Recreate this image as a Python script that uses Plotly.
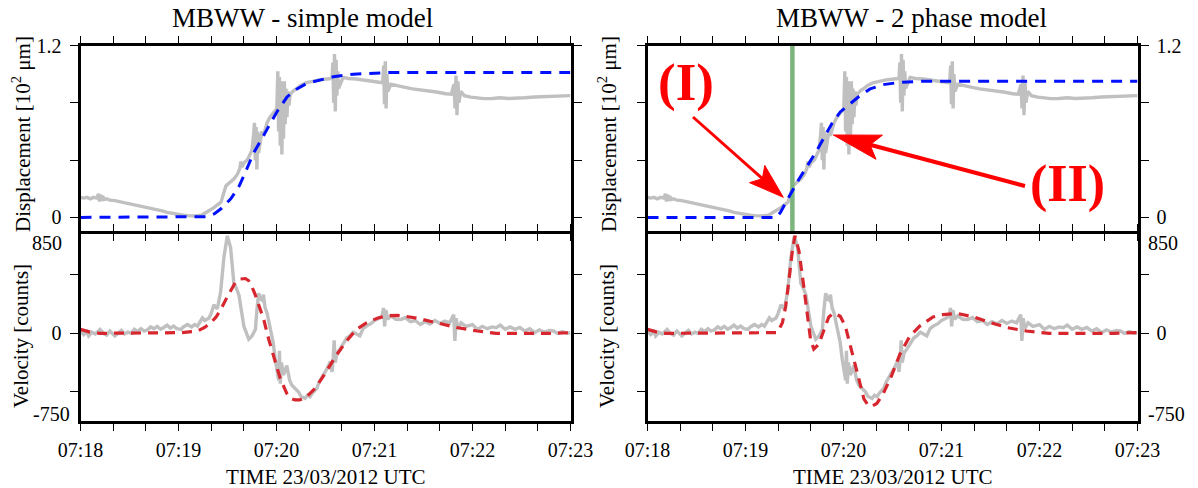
import math
import plotly.graph_objects as go

W, H = 1198, 488

# ---------------- data (time in seconds after 07:18:00 UTC) ----------------
# observed displacement [10^2 um]  (same record in both panels)
disp_obs_pts = [
    (0, 0.14), (2, 0.135), (4, 0.14), (6, 0.13), (8, 0.14), (10, 0.135), (11, 0.165), (11.6, 0.11),
    (12.2, 0.16), (12.8, 0.115), (13.5, 0.15), (14.5, 0.125), (16, 0.13), (18, 0.12), (21, 0.117),
    (24, 0.11), (27, 0.1), (30, 0.095), (33, 0.09), (36, 0.08), (40, 0.072), (43, 0.065), (46, 0.055),
    (50, 0.045), (53, 0.035), (56, 0.028), (60, 0.018), (63, 0.015), (66, 0.012), (70, 0.01), (74, 0.015),
    (78, 0.04), (81.9, 0.07), (84, 0.09), (86, 0.106), (88, 0.18), (89, 0.22), (91, 0.24), (94, 0.27),
    (96, 0.3), (97.5, 0.34), (98.2, 0.39), (99, 0.35), (100, 0.38), (102, 0.4), (103, 0.42), (105, 0.47),
    (106, 0.58), (106.5, 0.66), (107, 0.4), (107.5, 0.63), (108, 0.335), (108.5, 0.6), (109, 0.45),
    (110, 0.54), (111, 0.6), (112, 0.57), (114.2, 0.66), (116, 0.7), (118.2, 0.73), (120.2, 0.76),
    (120.8, 1.02), (121.3, 0.6), (121.8, 0.98), (122.3, 0.5), (122.8, 0.95), (123.3, 0.44), (123.8, 0.9),
    (124.3, 0.55), (124.8, 0.95), (125.3, 0.65), (125.8, 0.9), (126.4, 0.7), (127, 0.88), (127.6, 0.78),
    (128.4, 0.86), (130.5, 0.886), (132.5, 0.9), (134.6, 0.92), (138, 0.94), (142.7, 0.955), (146, 0.96),
    (150.8, 0.966), (154, 0.97), (154.5, 1.08), (155, 0.8), (155.5, 1.14), (156, 0.74), (156.5, 1.1),
    (157, 0.85), (157.5, 1.02), (158, 0.9), (160.8, 0.977), (164, 0.97), (168.9, 0.966), (173, 0.96),
    (177, 0.955), (181, 0.95), (183, 0.943), (185, 0.94), (185.6, 1.06), (186.1, 0.79), (186.6, 1.09),
    (187.1, 0.76), (187.6, 1.0), (188.2, 0.88), (190, 0.93), (193.2, 0.92), (198, 0.91), (203.3, 0.897),
    (208, 0.89), (213.5, 0.886), (218, 0.875), (223.6, 0.863), (227, 0.86), (228.7, 0.93), (229.3, 0.76),
    (229.9, 0.99), (230.5, 0.714), (231.1, 0.95), (231.7, 0.8), (232.8, 0.88), (235, 0.85), (238.9, 0.84),
    (243, 0.832), (247, 0.829), (252, 0.83), (257, 0.835), (262, 0.83), (266, 0.83), (272, 0.835),
    (278, 0.84), (284, 0.842), (290, 0.845), (295, 0.848), (300, 0.85),
]

# observed velocity [counts]
vel_obs_pts = [
    (0, 20), (2, -10), (4, 15), (5, -23), (7, 10), (9, -5), (12, 34), (14, 0), (16, -15), (18, 20),
    (21, -23), (23, 5), (25, 25), (27, -5), (29, 10), (31, 0), (33, 34), (35, 15), (37, 40), (39, 20),
    (41, 30), (43, 55), (45, 40), (47, 60), (49, 35), (51, 50), (53, 70), (55, 45), (57, 62), (59, 40),
    (61.5, 34), (63, 55), (65.5, 76), (68, 55), (70, 75), (71.6, 62), (73, 100), (74.6, 132), (76, 110),
    (78.7, 132), (80, 170), (81.7, 244), (83.8, 210), (85.8, 356), (87.8, 651), (89.9, 834), (91.9, 735),
    (93.9, 427), (95, 400), (97, 328), (100, 62), (103, -50), (105, -22), (107.1, 34), (108, 200),
    (109.1, 343), (110, 300), (111.1, 286), (112, 330), (113, 220), (114.2, 174), (116.2, 34), (118, -80),
    (119.2, -219), (120, -300), (121.3, -401), (121.8, -150), (122.3, -430), (123, -250), (124.3, -357),
    (126.3, -275), (128, -400), (129.4, -444), (131, -470), (133.4, -500), (135, -540), (137.5, -556),
    (139, -530), (140.5, -542), (142, -510), (144.6, -472), (146, -420), (148.7, -360), (151, -300),
    (153, -240), (154, -330), (154.7, -219), (155.3, -60), (156, -250), (157, -170), (158.8, -135),
    (161, -90), (163, -40), (164.9, -22), (167, 10), (169, -5), (171, -22), (173, 40), (175, 62),
    (178, 85), (180, 110), (183.1, 132), (184.6, 147), (185.5, 217), (186.2, 60), (187, 200), (188, 120),
    (190, 150), (193, 120), (196, 118), (199, 135), (202, 100), (205, 110), (208, 76), (211, 100),
    (214, 80), (217, 110), (220, 85), (223, 105), (226, 90), (228.5, 160), (229.2, -65), (230, 130),
    (231, 40), (233, 90), (236, 60), (240, 75), (243, 34), (246, 60), (249, 40), (252, 55), (254.5, 48),
    (257, 70), (260, 35), (263, 55), (266, 34), (269, 50), (272, 20), (275, 40), (278, 6), (281, 30),
    (284, 10), (287, 25), (289.5, 20), (292, 0), (295, 15), (298, 0), (300, 6),
]

# simple model
simple_disp_pts = [
    (0, 0), (70, 0), (78, 0.005), (82, 0.025), (86, 0.06), (89, 0.095), (92, 0.13), (95, 0.18),
    (97.2, 0.22), (100, 0.29), (102, 0.347), (106, 0.45), (110, 0.53), (115.2, 0.633), (120.2, 0.736),
    (126.4, 0.84), (132.5, 0.897), (138.6, 0.936), (146.7, 0.959), (154.8, 0.982), (167, 1.0),
    (179, 1.007), (190, 1.012), (300, 1.012),
]
simple_vel_pts = [
    (0, 34), (6, 10), (12, 0), (45, 0), (61.5, 6), (68, 15), (71.6, 20), (76, 50), (79.7, 90), (83, 140),
    (85.8, 202), (89.9, 314), (95, 440), (98, 465), (101, 469), (103, 450), (105, 398), (107, 330),
    (109.1, 244), (112.2, 118), (115.2, -50), (119.2, -247), (122.3, -387), (126.3, -514), (128.5, -555),
    (131.4, -570), (134, -570), (137.5, -556), (143.6, -472), (149.7, -345), (155.8, -205), (162.9, -65),
    (169, 34), (175, 90), (182.1, 132), (189, 152), (194, 154), (198.6, 147), (208, 124), (219.6, 85),
    (231, 48), (243, 20), (254.5, 0), (290, 0), (300, 6),
]

# 2 phase model
twoph_disp_pts = [
    (0, 0), (79, 0), (81.5, 0.037), (84.6, 0.106), (88.7, 0.186), (92.7, 0.266), (97.8, 0.358),
    (102.8, 0.45), (107.9, 0.553), (113, 0.657), (118, 0.736), (124.1, 0.794), (130.2, 0.851),
    (136.3, 0.897), (144.4, 0.927), (154.6, 0.943), (166.7, 0.95), (300, 0.95),
]
twoph_vel_pts = [
    (0, 34), (6, 10), (11, 0), (76, 0), (79.5, 6), (82.6, 90), (84.6, 230), (86.6, 455), (88.7, 707),
    (90.3, 834), (92.7, 707), (95.7, 398), (97.8, 174), (99.8, -50), (101.8, -135), (104.9, -93),
    (108.9, 62), (111, 140), (114, 174), (118, 146), (121.1, 62), (124.1, -107), (127.2, -275),
    (130.2, -444), (132.5, -560), (135.3, -620), (137.5, -622), (140.4, -600), (144.4, -514),
    (149.5, -360), (154.6, -177), (160.7, -22), (166.7, 62), (174.8, 140), (181, 161), (190, 169),
    (199.5, 141), (209, 96), (220.5, 48), (232, 20), (246, 0), (285.6, 0), (300, 6),
]

phase_change_t = 88.7          # green marker, s after 07:18
x_tickvals = list(range(0, 301, 20))
minute_labels = ["07:18", "07:19", "07:20", "07:21", "07:22", "07:23"]
disp_tickvals = [0, 0.4, 0.8, 1.2]
disp_ticktext = ["0", " ", " ", "1.2"]
vel_tickvals = [-500, 0, 500]
vel_ticktext = [" ", "0", " "]
vel_edge_labels = ["850", "-750"]


def unzip(pts):
    return [p[0] for p in pts], [p[1] for p in pts]


x_ticktext = [minute_labels[v // 60] if v % 60 == 0 else " " for v in x_tickvals]

GRAY = "#c0c0c0"
BLUE = "#0010ff"
RED = "#d8262e"
GREEN = "rgb(125,180,125)"
FONT = "Liberation Serif, Times New Roman, serif"

fig = go.Figure()

def add(pts, xa, ya, color, width, dash=None):
    t, v = unzip(pts)
    fig.add_trace(go.Scatter(x=t, y=v, mode="lines", xaxis=xa, yaxis=ya, showlegend=False,
                             hoverinfo="skip",
                             line=dict(color=color, width=width, dash=dash)))

# left panels
add(disp_obs_pts, "x", "y", GRAY, 3.4)
add(simple_disp_pts, "x", "y", BLUE, 3, "11px,8px")
add(vel_obs_pts, "x2", "y2", GRAY, 3.4)
add(simple_vel_pts, "x2", "y2", RED, 3.2, "10px,7px")
# right panels
add(disp_obs_pts, "x3", "y3", GRAY, 3.4)
fig.add_trace(go.Scatter(x=[phase_change_t, phase_change_t], y=[-0.095, 1.2], mode="lines",
                         xaxis="x3", yaxis="y3", showlegend=False, hoverinfo="skip",
                         line=dict(color=GREEN, width=4.5)))
add(twoph_disp_pts, "x3", "y3", BLUE, 3, "11px,8px")
add(vel_obs_pts, "x4", "y4", GRAY, 3.4)
add(twoph_vel_pts, "x4", "y4", RED, 3.2, "10px,7px")

# ---------------- layout ----------------
def fx(px):
    return px / W

def fy(py):
    return 1 - py / H

LW = 3
XL = [fx(79 + 1.5), fx(572 - 1.5)]
XR = [fx(646 + 1.5), fx(1139 - 1.5)]
YT = [fy(232.5 - 1.5), fy(44 + 1.5)]
YB = [fy(422.5 - 1.5), fy(232.5 + 1.5)]

tickfont = dict(family=FONT, size=20, color="black")

def xax(domain, anchor, labels):
    return dict(domain=domain, anchor=anchor, range=[0, 300], showgrid=False, zeroline=False,
                showline=True, linewidth=LW, linecolor="black", mirror="ticks",
                ticks="outside", ticklen=7, tickwidth=1.3, tickcolor="black",
                tickmode="array", tickvals=x_tickvals, ticktext=x_ticktext,
                showticklabels=labels, tickfont=tickfont, automargin=False,
                ticklabelstandoff=2)

def yax(domain, anchor, rng, tv, tt, side):
    return dict(domain=domain, anchor=anchor, range=rng, showgrid=False, zeroline=False,
                showline=True, linewidth=LW, linecolor="black", mirror="ticks",
                ticks="outside", ticklen=8, tickwidth=1.3, tickcolor="black",
                tickmode="array", tickvals=tv, ticktext=tt, side=side,
                tickfont=tickfont, automargin=False, ticklabelstandoff=4)

fig.update_layout(
    width=W, height=H, template="none",
    margin=dict(l=0, r=0, t=0, b=0, pad=0),
    paper_bgcolor="white", plot_bgcolor="white",
    font=dict(family=FONT, size=20, color="black"),
    xaxis=xax(XL, "y", False),
    yaxis=yax(YT, "x", [-0.095, 1.2], disp_tickvals, disp_ticktext, "left"),
    xaxis2=xax(XL, "y2", True),
    yaxis2=yax(YB, "x2", [-750, 850], vel_tickvals, vel_ticktext, "left"),
    xaxis3=xax(XR, "y3", False),
    yaxis3=yax(YT, "x3", [-0.095, 1.2], disp_tickvals, disp_ticktext, "right"),
    xaxis4=xax(XR, "y4", True),
    yaxis4=yax(YB, "x4", [-750, 850], vel_tickvals, vel_ticktext, "right"),
)

ann = []
def text(x, y, s, size, xanchor="center", yanchor="middle", angle=0, color="black", bold=False):
    ann.append(dict(x=fx(x), y=fy(y), xref="paper", yref="paper", text=(f"<b>{s}</b>" if bold else s),
                    showarrow=False, xanchor=xanchor, yanchor=yanchor, textangle=angle,
                    font=dict(family=FONT, size=size, color=color)))

text(302, 18, "MBWW - simple model", 27)
text(911, 18, "MBWW - 2 phase model", 27)
for xc in (21, 607):
    text(xc, 134, "Displacement [10<sup>2</sup> μm]", 21, angle=-90)
    text(xc, 336, "Velocity [counts]", 21, angle=-90)
text(326, 477, "TIME 23/03/2012 UTC", 21)
text(893, 477, "TIME 23/03/2012 UTC", 21)
# velocity range end labels
text(64, 243, vel_edge_labels[0], 20, xanchor="right")
text(72, 414, vel_edge_labels[1], 20, xanchor="right")
text(1146, 243, vel_edge_labels[0], 20, xanchor="left")
text(1146, 414, vel_edge_labels[1], 20, xanchor="left")
# phase labels
text(686, 82, "(I)", 53, color="#ff0000", bold=True)
text(1067, 184, "(II)", 52, color="#ff0000", bold=True)
fig.update_layout(annotations=ann)

# arrows (shaft + barbed head), pixel geometry converted to paper
def arrow(x0, y0, x1, y1, head_len, half_w, shaft_w):
    dx, dy = x1 - x0, y1 - y0
    L = math.hypot(dx, dy)
    ux, uy = dx / L, dy / L
    nx, ny = -uy, ux
    bx, by = x1 - head_len * ux, y1 - head_len * uy
    kx, ky = x1 - 0.8 * head_len * ux, y1 - 0.8 * head_len * uy
    fig.add_shape(type="line", xref="paper", yref="paper", x0=fx(x0), y0=fy(y0), x1=fx(kx), y1=fy(ky),
                  line=dict(color="#ff0000", width=shaft_w))
    p = [(x1, y1), (bx + half_w * nx, by + half_w * ny), (kx, ky), (bx - half_w * nx, by - half_w * ny)]
    path = "M " + " L ".join(f"{fx(a):.5f},{fy(b):.5f}" for a, b in p) + " Z"
    fig.add_shape(type="path", xref="paper", yref="paper", path=path,
                  fillcolor="#ff0000", line=dict(color="#ff0000", width=1))

arrow(693, 117, 783.3, 197.3, 35, 11.5, 3)
arrow(1025, 186, 833.3, 135, 47.5, 12.5, 4)

fig.write_html("out.html", config={"displayModeBar": False},
               post_script="document.body.style.margin='0';document.body.style.overflow='hidden';")
